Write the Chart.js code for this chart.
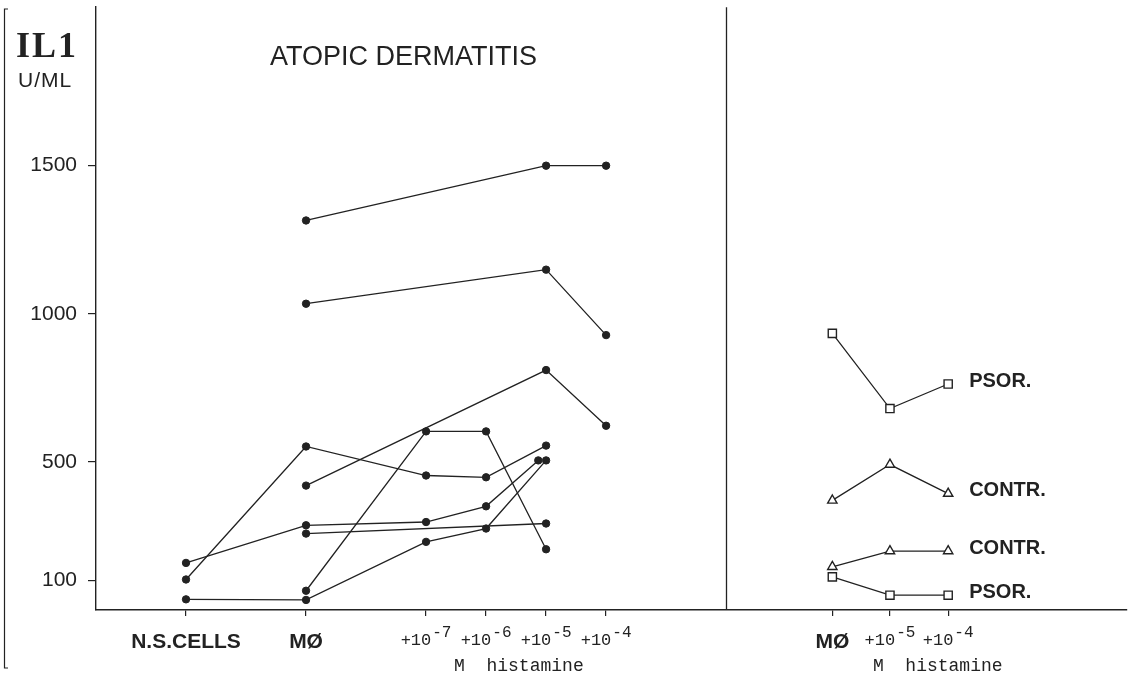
<!DOCTYPE html>
<html>
<head>
<meta charset="utf-8">
<title>IL1 - atopic dermatitis</title>
<script src="https://cdn.jsdelivr.net/npm/chart.js@4.4.0/dist/chart.umd.min.js"></script>
<style>
  html, body { margin: 0; padding: 0; background: #fff; }
  #wrap { width: 1138px; height: 678px; }
</style>
</head>
<body>
<div id="wrap"><canvas id="chart" width="1138" height="678"></canvas></div>
<script>
// x categories (left panel: atopic dermatitis, right panel: psoriasis / controls)
const leftCats = ['N.S.CELLS', 'MØ', '+10^-7', '+10^-6', '+10^-5', '+10^-4'];
const leftPos = [0, 2, 4, 5, 6, 7];
const rightCats = ['MØ', '+10^-5', '+10^-4'];
const rightPos = [10.77, 11.73, 12.7];
const panelSplit = 9;
const yTicks = [100, 500, 1000, 1500];

// atopic dermatitis, one array per donor (null = no value)
const ad1 = [null, 1315, null, null, 1500, 1500];
const ad2 = [null, 1034, null, null, 1149, 928];
const ad3 = [null, 420, null, null, 810, 622];
const ad4 = [103, 552, 454, 448, 555, null];
const ad5 = [159, 286, 297, 350, 505, null];
const ad6 = [36, 34, 230, 275, 505, null];
const ad7 = [null, 65, 603, 603, 205, null];
const ad8 = [null, 258, null, null, 292, null];
// two dots drawn side by side at +10^-5 in the original
const ad5Pos = [0, 2, 4, 5, 5.87, 7];

// right panel
const psor1 = [934, 680, 763];
const contr1 = [370, 491, 393];
const contr2 = [146, 199, 199];
const psor2 = [112, 50, 50];
const rightNames = ['PSOR.', 'CONTR.', 'CONTR.', 'PSOR.'];

const ink = '#222';
const mono = '"Liberation Mono", "DejaVu Sans Mono", monospace';
const sans = '"Liberation Sans", Arial, sans-serif';

function pts(xs, ys) {
    return ys.map((y, i) => ({ x: xs[i], y: y })).filter(p => p.y !== null);
}

function adSet(values, xs) {
    return {
        data: pts(xs || leftPos, values),
        borderColor: ink,
        borderWidth: 1.3,
        pointRadius: 3.7,
        pointBackgroundColor: ink,
        pointBorderColor: ink,
        pointBorderWidth: 1,
        tension: 0
    };
}

function rightSet(values, style, radius) {
    return {
        data: pts(rightPos, values),
        borderColor: ink,
        borderWidth: 1.3,
        pointStyle: style,
        pointRadius: radius,
        pointBackgroundColor: '#fff',
        pointBorderColor: ink,
        pointBorderWidth: 1.4,
        tension: 0
    };
}

const datasets = [
    adSet(ad1), adSet(ad2), adSet(ad3), adSet(ad4),
    adSet(ad5, ad5Pos), adSet(ad6), adSet(ad7), adSet(ad8),
    rightSet(psor1, 'rect', 5.8),
    rightSet(contr1, 'triangle', 5.4),
    rightSet(contr2, 'triangle', 5.4),
    rightSet(psor2, 'rect', 5.8)
];
const rightSeries = [psor1, contr1, contr2, psor2];

// draws "+10" with a raised exponent, or a plain bold label
function drawCat(ctx, label, x) {
    const parts = label.split('^');
    ctx.textBaseline = 'alphabetic';
    if (parts.length === 1) {
        ctx.font = 'bold 21px ' + sans;
        ctx.textAlign = 'center';
        ctx.fillText(label, x, 648);
        return;
    }
    ctx.textAlign = 'left';
    ctx.font = '17px ' + mono;
    const w1 = ctx.measureText(parts[0]).width;
    ctx.font = '16px ' + mono;
    const w2 = ctx.measureText(parts[1]).width;
    const x0 = x - (w1 + w2 + 1) / 2;
    ctx.font = '17px ' + mono;
    ctx.fillText(parts[0], x0, 645);
    ctx.font = '16px ' + mono;
    ctx.fillText(parts[1], x0 + w1 + 1, 637);
}

const decor = {
    id: 'decor',
    afterDraw(chart) {
        const ctx = chart.ctx;
        const xs = chart.scales.x;
        const ys = chart.scales.y;
        const area = chart.chartArea;
        ctx.save();
        ctx.fillStyle = ink;
        ctx.strokeStyle = ink;

        // panel divider
        const xd = Math.round(xs.getPixelForValue(panelSplit)) + 0.5;
        ctx.lineWidth = 1.3;
        ctx.beginPath();
        ctx.moveTo(xd, area.top);
        ctx.lineTo(xd, area.bottom);
        ctx.stroke();

        // scanned frame edge on the far left
        ctx.lineWidth = 1.2;
        ctx.beginPath();
        ctx.moveTo(8, 9);
        ctx.lineTo(4.5, 9);
        ctx.lineTo(4.5, 668);
        ctx.lineTo(8, 668);
        ctx.stroke();

        // axis captions
        leftCats.forEach((c, i) => drawCat(ctx, c, xs.getPixelForValue(leftPos[i])));
        rightCats.forEach((c, i) => drawCat(ctx, c, xs.getPixelForValue(rightPos[i])));

        ctx.textAlign = 'left';
        ctx.font = '18px ' + mono;
        ctx.fillText('M  histamine', xs.getPixelForValue(leftPos[2]) + 28, 671);
        ctx.fillText('M  histamine', xs.getPixelForValue(rightPos[1]) - 17, 671);

        // y title
        ctx.font = 'bold 36px "Liberation Serif", "Times New Roman", serif';
        ctx.letterSpacing = '2px';
        ctx.fillText('IL1', 16, 57);
        ctx.font = '21px ' + sans;
        ctx.letterSpacing = '1px';
        ctx.fillText('U/ML', 18, 87);
        ctx.letterSpacing = '0px';

        // panel title
        ctx.font = '27px ' + sans;
        ctx.fillText('ATOPIC DERMATITIS', 270, 65);

        // group names at the end of each right-panel line
        ctx.font = 'bold 20px ' + sans;
        ctx.textBaseline = 'middle';
        const xl = xs.getPixelForValue(rightPos[2]) + 21;
        rightSeries.forEach((s, i) => {
            ctx.fillText(rightNames[i], xl, ys.getPixelForValue(s[s.length - 1]) - 3);
        });
        ctx.restore();
    }
};

new Chart(document.getElementById('chart').getContext('2d'), {
    type: 'line',
    data: { datasets: datasets },
    options: {
        responsive: false,
        animation: false,
        devicePixelRatio: 1,
        layout: { padding: { top: 5, right: 11, left: 0, bottom: 0 } },
        plugins: {
            legend: { display: false },
            tooltip: { enabled: false }
        },
        scales: {
            x: {
                type: 'linear',
                min: -1.5,
                max: 15.68,
                afterBuildTicks: (s) => {
                    s.ticks = leftPos.concat(rightPos).map(v => ({ value: v }));
                },
                afterFit: (s) => {
                    s.height = 68;
                    s.paddingLeft = 0;
                    s.paddingRight = 0;
                },
                ticks: { display: false },
                grid: { drawOnChartArea: false, drawTicks: true, tickLength: 6, color: ink, lineWidth: 1.2 },
                border: { display: true, color: ink, width: 1.4 }
            },
            y: {
                type: 'linear',
                min: 0,
                max: 2035,
                afterBuildTicks: (s) => {
                    s.ticks = yTicks.map(v => ({ value: v }));
                },
                afterFit: (s) => {
                    s.width = 96;
                    s.paddingTop = 0;
                    s.paddingBottom = 0;
                },
                ticks: {
                    color: ink,
                    padding: 11,
                    font: { family: sans, size: 21 },
                    callback: (v) => String(v)
                },
                grid: { drawOnChartArea: false, drawTicks: true, tickLength: 8, color: ink, lineWidth: 1.2 },
                border: { display: true, color: ink, width: 1.4 }
            }
        }
    },
    plugins: [decor]
});
</script>
</body>
</html>
